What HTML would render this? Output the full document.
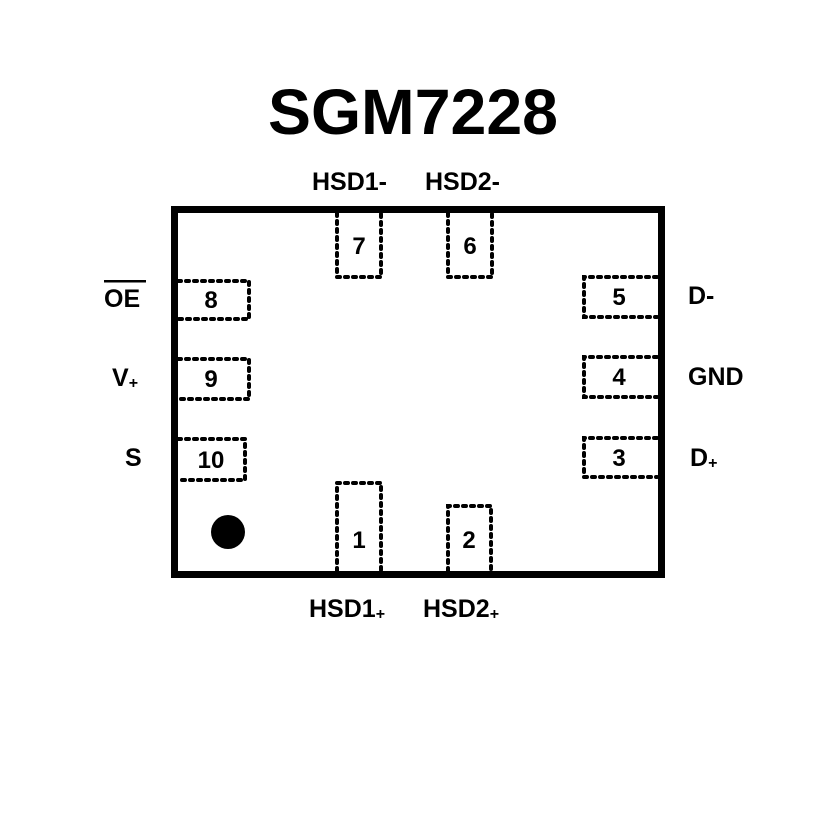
<!DOCTYPE html>
<html><head><style>body{margin:0;background:#fff}svg{display:block}</style></head><body>
<svg width="827" height="827" viewBox="0 0 827 827" xmlns="http://www.w3.org/2000/svg">
<rect x="0" y="0" width="827" height="827" fill="#fff"/>
<text x="268" y="134" textLength="290" lengthAdjust="spacingAndGlyphs" font-family="Liberation Sans, sans-serif" font-weight="bold" font-size="64">SGM7228</text>
<rect x="174.5" y="209.5" width="487" height="365" fill="none" stroke="#000" stroke-width="7"/>
<g fill="none" stroke="#000" stroke-width="4" stroke-dasharray="3,5" stroke-linecap="round">
<path d="M337,213 V277 H381 V213"/>
<path d="M448,213 V277 H492 V213"/>
<path d="M178,281 H249 V319 H178"/>
<path d="M178,359 H249 V399 H178"/>
<path d="M178,439 H245 V480 H178"/>
<path d="M657,277 H584 V317 H657"/>
<path d="M657,357 H584 V397 H657"/>
<path d="M657,438 H584 V477 H657"/>
<path d="M337,571 V483 H381 V571"/>
<path d="M448,571 V506 H491 V571"/>
</g>
<circle cx="228" cy="532" r="17" fill="#000"/>
<g font-family="Liberation Sans, sans-serif" font-weight="bold" font-size="24" text-anchor="middle">
<text x="359" y="254">7</text>
<text x="470" y="254">6</text>
<text x="211" y="308">8</text>
<text x="211" y="387">9</text>
<text x="211" y="468">10</text>
<text x="619" y="305">5</text>
<text x="619" y="385">4</text>
<text x="619" y="466">3</text>
<text x="359" y="548">1</text>
<text x="469" y="548">2</text>
</g>
<g font-family="Liberation Sans, sans-serif" font-weight="bold" font-size="25">
<text x="312" y="190">HSD1-</text>
<text x="425" y="190">HSD2-</text>
<text x="104" y="307">OE</text>
<rect x="104" y="280" width="42" height="2.5" fill="#000"/>
<text x="112" y="386">V<tspan font-size="16" dy="2">+</tspan></text>
<text x="125" y="466">S</text>
<text x="688" y="304">D-</text>
<text x="688" y="385">GND</text>
<text x="690" y="466">D<tspan font-size="16" dy="2">+</tspan></text>
<text x="309" y="617">HSD1<tspan font-size="16" dy="2">+</tspan></text>
<text x="423" y="617">HSD2<tspan font-size="16" dy="2">+</tspan></text>
</g>
</svg>
</body></html>
